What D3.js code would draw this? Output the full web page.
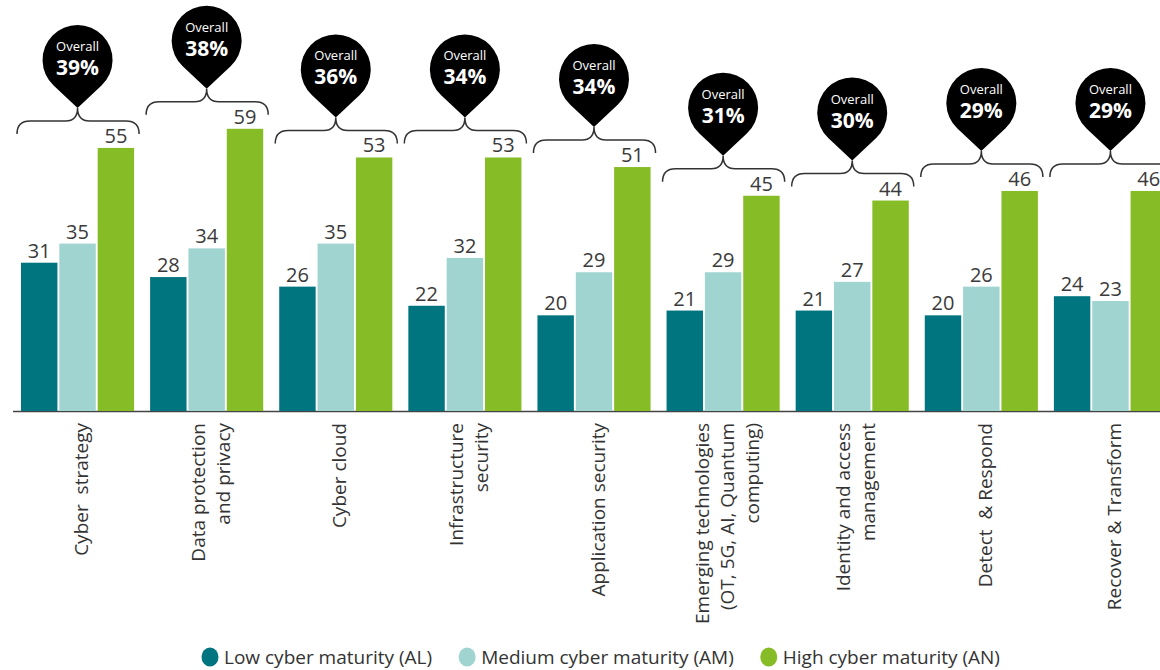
<!DOCTYPE html>
<html>
<head>
<meta charset="utf-8">
<script src="https://cdn.jsdelivr.net/npm/d3@7"></script>
<style>
  body { margin: 0; background: #fff; }
  svg { display: block; font-family: "Open Sans", sans-serif; }
  .xlab { white-space: pre; }
</style>
</head>
<body>
<svg id="chart" width="1160" height="670"></svg>
<script>
// --- data ---
const categories = [
  ["Cyber  strategy"],
  ["Data protection", "and privacy"],
  ["Cyber cloud"],
  ["Infrastructure", "security"],
  ["Application security"],
  ["Emerging technologies", "(OT, 5G, AI, Quantum", "computing)"],
  ["Identity and access", "management"],
  ["Detect  & Respond"],
  ["Recover & Transform"]
];
const seriesNames = ["Low cyber maturity (AL)", "Medium cyber maturity (AM)", "High cyber maturity (AN)"];
const lowValues = [31, 28, 26, 22, 20, 21, 21, 20, 24];
const mediumValues = [35, 34, 35, 32, 29, 29, 27, 26, 23];
const highValues = [55, 59, 53, 53, 51, 45, 44, 46, 46];
const overallValues = [39, 38, 36, 34, 34, 31, 30, 29, 29];

const colors = ["#00757f", "#9fd4d0", "#86bc25"];

// --- layout ---
const svg = d3.select("#chart");
const baseline = 411;
const catKeys = categories.map((c, i) => i);

const x0 = d3.scaleBand()
  .domain(catKeys)
  .range([13, 1175])
  .paddingInner(0.124)
  .paddingOuter(0.062);

const x1 = d3.scaleBand()
  .domain([0, 1, 2])
  .range([0, x0.bandwidth()])
  .paddingInner(0.05);

const y = d3.scaleLinear().domain([0, 60]).range([baseline, baseline - 287]);

const color = d3.scaleOrdinal().domain([0, 1, 2]).range(colors);

const rows = catKeys.map(i => ({
  i,
  vals: [lowValues[i], mediumValues[i], highValues[i]],
  overall: overallValues[i]
}));

// axis line
svg.append("line")
  .attr("x1", 13).attr("x2", 1160)
  .attr("y1", baseline + 0.5).attr("y2", baseline + 0.5)
  .attr("stroke", "#444").attr("stroke-width", 1.5);

// bars
const groups = svg.append("g").selectAll("g")
  .data(rows)
  .enter().append("g")
  .attr("transform", d => `translate(${x0(d.i)},0)`);

groups.selectAll("rect")
  .data(d => d.vals.map((v, s) => ({ v, s })))
  .enter().append("rect")
  .attr("x", d => x1(d.s))
  .attr("y", d => y(d.v))
  .attr("width", x1.bandwidth())
  .attr("height", d => y(0) - y(d.v))
  .attr("fill", d => color(d.s));

groups.selectAll("text.val")
  .data(d => d.vals.map((v, s) => ({ v, s })))
  .enter().append("text")
  .attr("class", "val")
  .attr("x", d => x1(d.s) + x1.bandwidth() / 2)
  .attr("y", d => y(d.v) - 5)
  .attr("text-anchor", "middle")
  .attr("font-size", 20)
  .attr("fill", "#3a3a3a")
  .text(d => d.v);

// x labels (rotated)
const lineGap = 25;
svg.append("g").selectAll("text")
  .data(rows)
  .enter().append("text")
  .attr("class", "xlab")
  .attr("transform", d => `translate(${x0(d.i) + x0.bandwidth() / 2 + 4},${baseline + 12}) rotate(-90)`)
  .attr("text-anchor", "end")
  .attr("font-size", 19)
  .attr("fill", "#333")
  .each(function(d) {
    const lines = categories[d.i];
    const t = d3.select(this);
    lines.forEach((ln, k) => {
      t.append("tspan")
        .attr("x", 0)
        .attr("y", (k - (lines.length - 1) / 2) * lineGap)
        .attr("dy", "0.35em")
        .text(ln);
    });
  });

// braces + overall pins
const pinR = 35;
rows.forEach(d => {
  const left = x0(d.i) - 4;
  const right = x0(d.i) + x0.bandwidth() + 5;
  const cx = x0(d.i) + x0.bandwidth() / 2;
  const h = y(d3.max(d.vals)) - 27;

  const brace = d3.path();
  brace.moveTo(left, h + 13);
  brace.quadraticCurveTo(left, h, left + 13, h);
  brace.lineTo(cx - 12, h);
  brace.quadraticCurveTo(cx, h, cx, h - 13);
  brace.quadraticCurveTo(cx, h, cx + 12, h);
  brace.lineTo(right - 13, h);
  brace.quadraticCurveTo(right, h, right, h + 13);

  svg.append("path")
    .attr("d", brace.toString())
    .attr("fill", "none")
    .attr("stroke", "#333")
    .attr("stroke-width", 1.5);

  // teardrop pin
  const cy = h - 61;
  const tipY = h - 13;
  const dist = tipY - cy;
  const phi = Math.acos(pinR / dist);
  const lx = cx - pinR * Math.sin(phi), ly = cy + pinR * Math.cos(phi);
  const rx = cx + pinR * Math.sin(phi);
  svg.append("path")
    .attr("d", `M${cx},${tipY} L${lx},${ly} A${pinR},${pinR} 0 1 1 ${rx},${ly} Z`)
    .attr("fill", "#000");

  svg.append("text")
    .attr("x", cx).attr("y", cy - 9)
    .attr("text-anchor", "middle")
    .attr("font-size", 13)
    .attr("fill", "#fff")
    .text("Overall");
  svg.append("text")
    .attr("x", cx).attr("y", cy + 15)
    .attr("text-anchor", "middle")
    .attr("font-size", 21)
    .attr("font-weight", "bold")
    .attr("fill", "#fff")
    .text(d.overall + "%");
});

// legend
const legend = svg.append("g");
let lx = 201;
seriesNames.forEach((name, s) => {
  legend.append("ellipse")
    .attr("cx", lx + 9).attr("cy", 657)
    .attr("rx", 8.5).attr("ry", 9.5)
    .attr("fill", color(s));
  const t = legend.append("text")
    .attr("x", lx + 23).attr("y", 664)
    .attr("font-size", 19)
    .attr("fill", "#333")
    .text(name);
  lx += 23 + t.node().getComputedTextLength() + 26;
});
</script>
</body>
</html>
